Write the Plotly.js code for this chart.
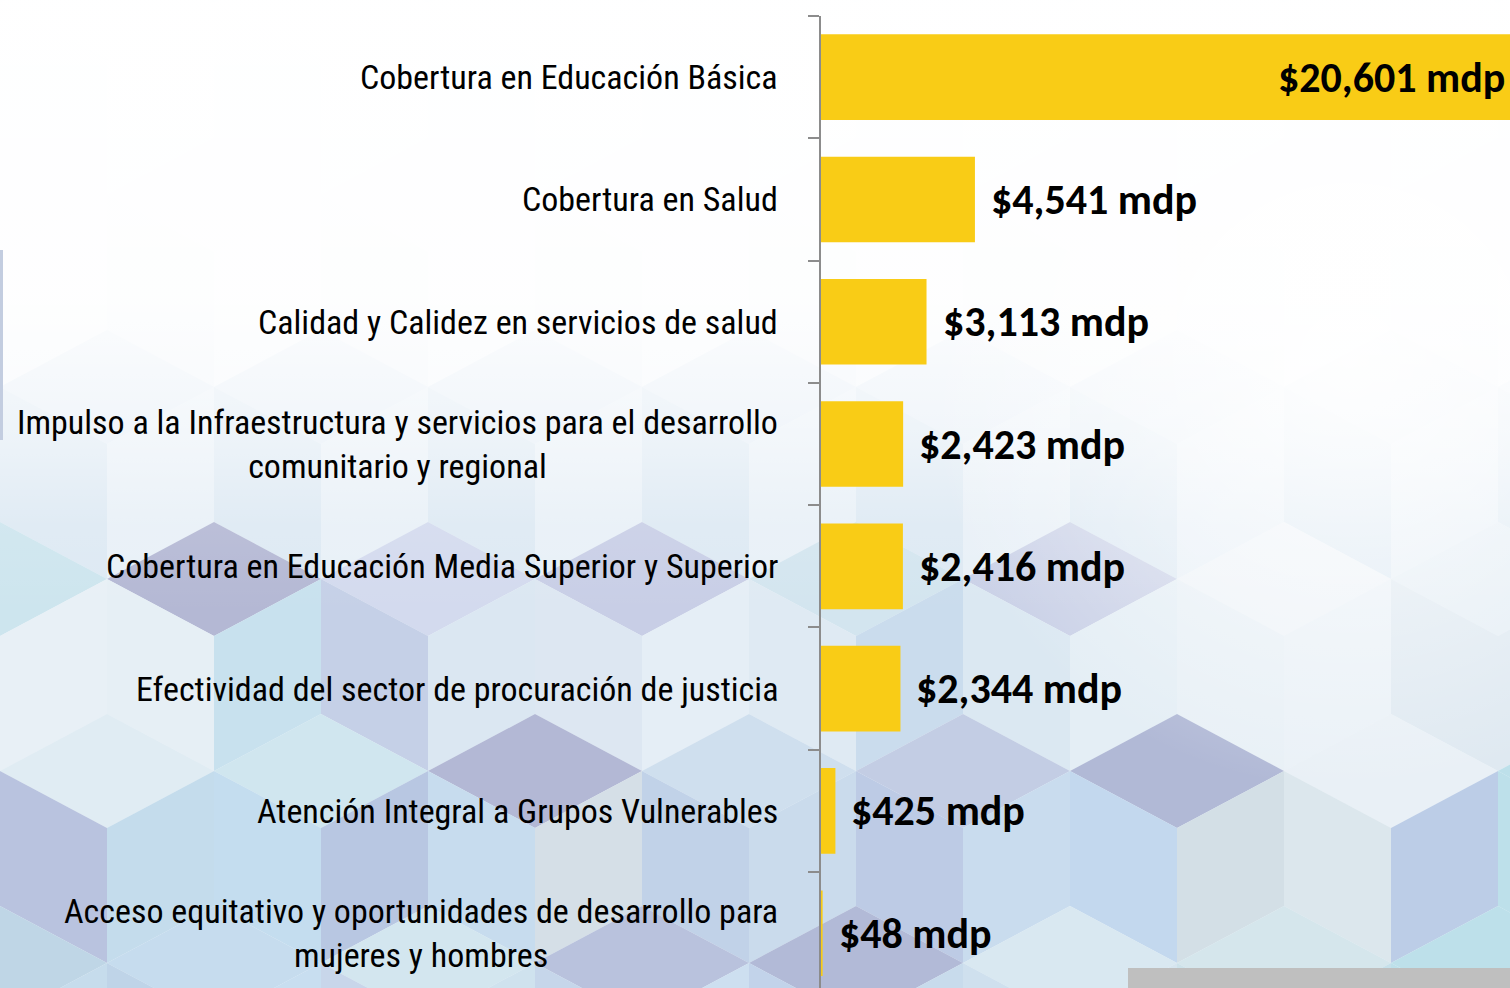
<!DOCTYPE html>
<html>
<head>
<meta charset="utf-8">
<script src="https://cdn.plot.ly/plotly-3.0.1.min.js"></script>
<style>
  html, body { margin: 0; padding: 0; background: #ffffff; }
  #chart { width: 1510px; height: 988px; }
</style>
</head>
<body>
<div id="chart"></div>
<script>
// ---- data ----
const categories = [
  'Cobertura en Educación Básica',
  'Cobertura en Salud',
  'Calidad y Calidez en servicios de salud',
  'Impulso a la Infraestructura y servicios para el desarrollo<br>comunitario y regional',
  'Cobertura en Educación Media Superior y Superior',
  'Efectividad del sector de procuración de justicia',
  'Atención Integral a Grupos Vulnerables',
  'Acceso equitativo y oportunidades de desarrollo para<br>mujeres y hombres'
];
const values = [20601, 4541, 3113, 2423, 2416, 2344, 425, 48];
const valuePrefix = '$';
const valueSuffix = ' mdp';

// ---- layout constants ----
const W = 1510, H = 988;
const M = { l: 821, r: 0, t: 16, b: 0 };
const xMax = 20324;
const barColor = '#F9CC16';

// ---- decorative background (cube pattern) ----
function buildBackground() {
  const w = 107, h = 57, L = 135;
  const ox = 1070, oy = 522;
  const colors = {
    '0:0': ['#cde5ee', '#dbe8f2', '#e8f0f6'],
    '0:214': ['#b4b8d4', '#e6eff5', '#c8e1ee'],
    '0:428': ['#d3daee', '#c5d0e7', '#dbe7f2'],
    '0:642': ['#c8cee6', '#dde7f2', '#e5eef6'],
    '0:856': ['#d3e5ef', '#dfeaf3', '#cadced'],
    '0:1070': ['#cad1e7', '#dbe8f2', '#e4eef5'],
    '0:1284': ['#eef3f8', '#e8f0f6', '#eaf1f7'],
    '0:1498': ['#e5eef5', '#dfe9f1', '#dfe9f1'],
    '1:107': ['#e0ecf3', '#b9c3df', '#c4dcec'],
    '1:321': ['#d0e6ef', '#c4ddef', '#b8c7e2'],
    '1:535': ['#b3b8d5', '#c7dcee', '#d5dfe7'],
    '1:749': ['#cfdfee', '#c1d2e8', '#cadbec'],
    '1:963': ['#c3cde4', '#bdcbe5', '#c9dcee'],
    '1:1177': ['#b1b9d6', '#c3d8ee', '#d3dfe6'],
    '1:1391': ['#e9f0f6', '#dce7ed', '#bccde7'],
    '1:1605': ['#bde0ea', '#bde0ea', '#bde0ea'],
    '2:0': ['#bfd6e6', '#c3d6ea', '#c6dcec'],
    '2:214': ['#c6dcee', '#bfd4e8', '#c8def0'],
    '2:428': ['#d3e6ef', '#c8d6ea', '#cfe2ee'],
    '2:642': ['#b9c2dd', '#c6d6ea', '#cddff0'],
    '2:856': ['#b2bad7', '#c2d3ea', '#c8dbec'],
    '2:1070': ['#d9e8f1', '#cfe0ee', '#d6e5ef'],
    '2:1284': ['#d5e6ec', '#cde2ea', '#c6e0ea'],
    '2:1498': ['#bde0ea', '#bde0ea', '#bde0ea']
  };
  const defaults = {
    '-1': ['#e4edf6', '#dde9f3', '#e8f0f7'],
    '-2': ['#f2f6fa', '#eef3f9', '#f3f7fb'],
    '-3': ['#f6f9fc', '#f4f7fb', '#f7f9fc']
  };
  let faces = '';
  for (let j = -3; j <= 2; j++) {
    const y = oy + 192 * j;
    for (let i = -8; i <= 5; i++) {
      const x = ox + 214 * i + 107 * j;
      if (x < -120 || x > W + 120) continue;
      const key = j + ':' + Math.round(x);
      const c = colors[key] || defaults[String(j)] || ['#d6e4f0', '#cfe0ee', '#dce8f2'];
      const T = [x, y], R = [x + w, y + h], B = [x, y + 2 * h], Lf = [x - w, y + h];
      const p = a => a.map(q => q[0].toFixed(1) + ',' + q[1].toFixed(1)).join(' ');
      faces += '<polygon points="' + p([T, R, B, Lf]) + '" fill="' + c[0] + '"/>';
      faces += '<polygon points="' + p([Lf, B, [x, y + 2 * h + L], [x - w, y + h + L]]) + '" fill="' + c[1] + '"/>';
      faces += '<polygon points="' + p([B, R, [x + w, y + h + L], [x, y + 2 * h + L]]) + '" fill="' + c[2] + '"/>';
    }
  }
  const svg =
    '<svg xmlns="http://www.w3.org/2000/svg" width="' + W + '" height="' + H + '" viewBox="0 0 ' + W + ' ' + H + '">' +
    '<defs>' +
    '<linearGradient id="fade" x1="0" y1="0" x2="0" y2="' + H + '" gradientUnits="userSpaceOnUse">' +
    '<stop offset="0" stop-color="#ffffff" stop-opacity="0.97"/>' +
    '<stop offset="0.3" stop-color="#ffffff" stop-opacity="0.9"/>' +
    '<stop offset="0.45" stop-color="#ffffff" stop-opacity="0.45"/>' +
    '<stop offset="0.53" stop-color="#ffffff" stop-opacity="0.1"/>' +
    '<stop offset="0.62" stop-color="#ffffff" stop-opacity="0"/>' +
    '<stop offset="1" stop-color="#ffffff" stop-opacity="0"/>' +
    '</linearGradient>' +
    '<radialGradient id="glow" cx="1350" cy="360" r="430" gradientUnits="userSpaceOnUse">' +
    '<stop offset="0" stop-color="#ffffff" stop-opacity="0.85"/>' +
    '<stop offset="1" stop-color="#ffffff" stop-opacity="0"/>' +
    '</radialGradient>' +
    '</defs>' +
    '<rect width="' + W + '" height="' + H + '" fill="#eef4f9"/>' +
    faces +
    '<rect width="' + W + '" height="' + H + '" fill="url(#fade)"/>' +
    '<rect width="' + W + '" height="' + H + '" fill="url(#glow)"/>' +
    '<rect x="0" y="250" width="3" height="190" fill="#c3cde0"/>' +
    '<rect x="1128" y="968" width="382" height="20" fill="#bfbfbf"/>' +
    '</svg>';
  return 'data:image/svg+xml;charset=utf-8,' + encodeURIComponent(svg);
}

const plotW = W - M.l - M.r, plotH = H - M.t - M.b;

const fmt = v => valuePrefix + v.toLocaleString('en-US') + valueSuffix;

const annotations = [];
categories.forEach((c, i) => {
  annotations.push({
    xref: 'paper', yref: 'y', x: 0, y: c,
    xanchor: 'right', yanchor: 'middle', align: 'center',
    xshift: -41, showarrow: false, text: c,
    font: { family: 'Roboto Condensed, Liberation Sans Narrow, sans-serif', size: 34, color: '#000000' }
  });
  const inside = values[i] > xMax;
  annotations.push({
    xref: 'x', yref: 'y', x: inside ? xMax : values[i], y: c,
    xanchor: inside ? 'right' : 'left', yanchor: 'middle',
    xshift: inside ? -3 : 14, showarrow: false, text: fmt(values[i]),
    font: { family: 'Carlito, Lato, sans-serif', size: 42, color: '#000000', weight: 'bold' }
  });
});

const data = [{
  type: 'bar', orientation: 'h',
  x: values, y: categories,
  width: 0.7,
  marker: { color: barColor, line: { width: 0 } },
  hoverinfo: 'none', cliponaxis: true
}];

const layout = {
  width: W, height: H,
  margin: M,
  paper_bgcolor: '#ffffff',
  plot_bgcolor: 'rgba(0,0,0,0)',
  showlegend: false,
  bargap: 0.3,
  xaxis: {
    range: [0, xMax], showgrid: false, zeroline: false,
    showticklabels: false, ticks: '', showline: false, fixedrange: true
  },
  yaxis: {
    type: 'category', range: [categories.length - 0.552, -0.5],
    showgrid: false, zeroline: false, showticklabels: false,
    showline: true, linecolor: '#8c8c8c', linewidth: 2,
    ticks: 'outside', tickson: 'boundaries', ticklen: 11, tickwidth: 2, tickcolor: '#8c8c8c',
    fixedrange: true
  },
  images: [{
    source: buildBackground(),
    xref: 'paper', yref: 'paper',
    x: -M.l / plotW, y: 1 + M.t / plotH,
    sizex: W / plotW, sizey: H / plotH,
    xanchor: 'left', yanchor: 'top', sizing: 'stretch', layer: 'below'
  }],
  annotations: annotations
};

Plotly.newPlot('chart', data, layout, { displayModeBar: false, staticPlot: true });
</script>
</body>
</html>
